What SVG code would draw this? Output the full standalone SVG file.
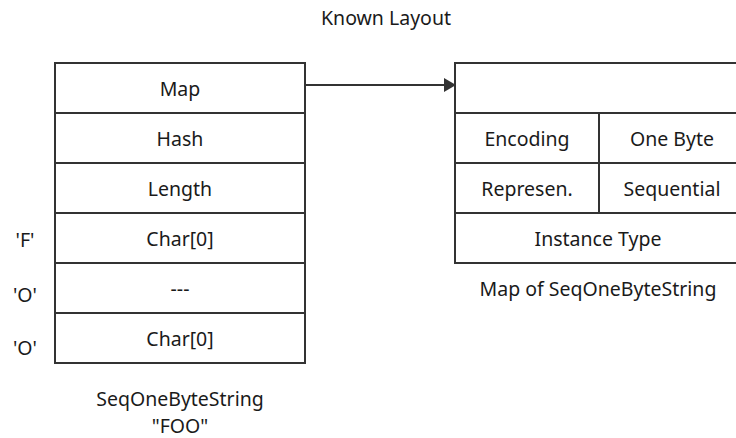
<svg xmlns="http://www.w3.org/2000/svg" width="736" height="438" viewBox="0 0 736 438">
  <defs>
    <style>
      .cell { fill: #ffffff; stroke: #333333; stroke-width: 2; }
      .lbl { font-family: "Noto Sans", "Open Sans", sans-serif; font-size: 19.5px; fill: #1a1a1a; text-anchor: middle; }
      .edge { stroke: #333333; stroke-width: 2; fill: none; }
    </style>
    <marker id="arrow" viewBox="0 0 12 14" refX="11" refY="7" markerWidth="12" markerHeight="14" markerUnits="userSpaceOnUse" orient="auto">
      <path d="M0,0 L12,7 L0,14 z" fill="#333333"/>
    </marker>
  </defs>
  <rect width="736" height="438" fill="#ffffff"/>

  <text class="lbl" x="386" y="25">Known Layout</text>

  <!-- string object layout -->
  <g id="seq-string">
    <rect class="cell" x="55" y="63" width="250" height="50"/>
    <text class="lbl" x="180" y="96">Map</text>
    <rect class="cell" x="55" y="113" width="250" height="50"/>
    <text class="lbl" x="180" y="146">Hash</text>
    <rect class="cell" x="55" y="163" width="250" height="50"/>
    <text class="lbl" x="180" y="196">Length</text>
    <rect class="cell" x="55" y="213" width="250" height="50"/>
    <text class="lbl" x="180" y="246">Char[0]</text>
    <rect class="cell" x="55" y="263" width="250" height="50"/>
    <text class="lbl" x="180" y="296">---</text>
    <rect class="cell" x="55" y="313" width="250" height="50"/>
    <text class="lbl" x="180" y="346">Char[0]</text>
    <text class="lbl" x="180" y="406">SeqOneByteString</text>
    <text class="lbl" x="180" y="433">"FOO"</text>
  </g>

  <g id="chars">
    <text class="lbl" x="25" y="247">'F'</text>
    <text class="lbl" x="25" y="302">'O'</text>
    <text class="lbl" x="25" y="355">'O'</text>
  </g>

  <!-- map object layout -->
  <g id="map">
    <rect class="cell" x="455" y="63" width="287" height="50"/>
    <rect class="cell" x="455" y="113" width="144" height="50"/>
    <text class="lbl" x="527" y="146">Encoding</text>
    <rect class="cell" x="599" y="113" width="143" height="50"/>
    <text class="lbl" x="672" y="146">One Byte</text>
    <rect class="cell" x="455" y="163" width="144" height="50"/>
    <text class="lbl" x="527" y="196">Represen.</text>
    <rect class="cell" x="599" y="163" width="143" height="50"/>
    <text class="lbl" x="672" y="196">Sequential</text>
    <rect class="cell" x="455" y="213" width="287" height="50"/>
    <text class="lbl" x="598" y="246">Instance Type</text>
    <text class="lbl" x="598" y="296">Map of SeqOneByteString</text>
  </g>

  <g id="connectors">
    <line class="edge" x1="305" y1="85" x2="455" y2="85" marker-end="url(#arrow)"/>
  </g>
</svg>
